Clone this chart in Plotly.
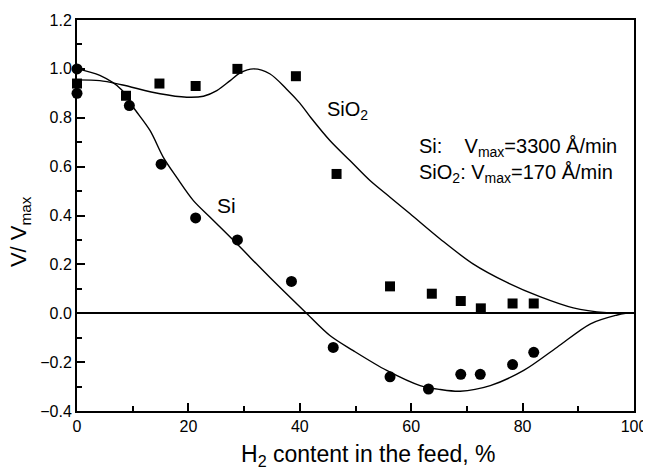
import plotly.graph_objects as go

# Measured data points
sio2_x = [0, 8.8, 14.8, 21.3, 28.8, 39.3, 46.6, 56.2, 63.7, 68.9, 72.5, 78.2, 82.0]
sio2_y = [0.94, 0.89, 0.94, 0.93, 1.0, 0.97, 0.57, 0.11, 0.08, 0.05, 0.02, 0.04, 0.04]

si_x = [0, 0, 9.4, 15.1, 21.3, 28.8, 38.5, 46.0, 56.2, 63.1, 68.9, 72.4, 78.2, 82.0]
si_y = [1.0, 0.90, 0.85, 0.61, 0.39, 0.30, 0.13, -0.14, -0.26, -0.31, -0.25, -0.25, -0.21, -0.16]

# Fitted curves
sio2_fit_x = [0, 4.1, 8.0, 14.9, 19.7, 22.7, 25.1, 27.5, 29.3, 31.7, 34.6, 37.6, 40.0, 42.0, 45.4, 49.0, 52.6, 56.2, 59.8, 65.2, 71.1, 77.1, 83.1, 89.1, 95.1, 97.8]
sio2_fit_y = [0.955, 0.952, 0.935, 0.898, 0.884, 0.888, 0.911, 0.952, 0.984, 1.0, 0.98, 0.918, 0.86, 0.80, 0.707, 0.625, 0.543, 0.475, 0.407, 0.304, 0.202, 0.127, 0.068, 0.022, 0.002, 0.0]

si_fit_x = [0, 4.1, 8.0, 10.1, 13.1, 15.5, 17.9, 20.9, 23.9, 28.7, 34.6, 41.2, 45.4, 49.6, 55.6, 61.6, 65.2, 68.8, 74.2, 80.2, 86.2, 92.2, 97.0, 98.5]
si_fit_y = [1.0, 0.973, 0.915, 0.843, 0.748, 0.638, 0.556, 0.461, 0.393, 0.284, 0.147, 0.0, -0.091, -0.153, -0.234, -0.296, -0.312, -0.319, -0.296, -0.234, -0.139, -0.043, -0.007, 0.0]

x_ticks = [0, 20, 40, 60, 80, 100]
y_ticks = [-0.4, -0.2, 0.0, 0.2, 0.4, 0.6, 0.8, 1.0, 1.2]

FONT = "Liberation Sans, Arial, sans-serif"

fig = go.Figure()
for fx, fy in ((sio2_fit_x, sio2_fit_y), (si_fit_x, si_fit_y)):
    fig.add_trace(go.Scatter(x=fx, y=fy, mode="lines",
                             line=dict(color="black", width=1.4, shape="spline", smoothing=0.9),
                             showlegend=False, hoverinfo="skip"))
fig.add_trace(go.Scatter(x=sio2_x, y=sio2_y, mode="markers",
                         marker=dict(symbol="square", size=10, color="black"),
                         showlegend=False, cliponaxis=False))
fig.add_trace(go.Scatter(x=si_x, y=si_y, mode="markers",
                         marker=dict(symbol="circle", size=11, color="black"),
                         showlegend=False, cliponaxis=False))

axis_common = dict(showline=True, linecolor="black", linewidth=2, mirror=True,
                   showgrid=False, ticks="inside", ticklen=8, tickwidth=2, tickcolor="black",
                   tickfont=dict(size=16), automargin=False)

# The page body has an 8px margin, so the figure is sized to fill the rest of the window.
fig.update_layout(
    width=643, height=460,
    margin=dict(l=69, r=17, t=12, b=57),
    paper_bgcolor="white", plot_bgcolor="white",
    font=dict(family=FONT, color="black", size=16),
    xaxis=dict(range=[0, 100], tickvals=x_ticks, zeroline=False,
               minor=dict(dtick=10, ticks="inside", ticklen=5, tickwidth=2, tickcolor="black"),
               **axis_common),
    yaxis=dict(range=[-0.4, 1.2], tickvals=y_ticks, tickformat=".1f",
               zeroline=True, zerolinecolor="black", zerolinewidth=2,
               minor=dict(dtick=0.1, ticks="inside", ticklen=5, tickwidth=2, tickcolor="black"),
               **axis_common),
    annotations=[
        dict(xref="paper", yref="paper", x=0.523, y=-0.113, text="H<sub>2</sub> content in the feed, %",
             showarrow=False, font=dict(size=23), xanchor="center", yanchor="middle"),
        dict(xref="paper", yref="paper", x=-0.102, y=0.458, text="V/ V<sub>max</sub>",
             showarrow=False, font=dict(size=22), textangle=-90, xanchor="center", yanchor="middle"),
        dict(x=26.9, y=0.44, text="Si", showarrow=False, font=dict(size=21)),
        dict(x=48.6, y=0.83, text="SiO<sub>2</sub>", showarrow=False, font=dict(size=20),
             xanchor="center", yanchor="middle"),
        dict(x=61.0, y=0.68, text="Si:    V<sub>max</sub>=3300 Å/min", showarrow=False,
             font=dict(size=20), xanchor="left", yanchor="middle"),
        dict(x=61.0, y=0.57, text="SiO<sub>2</sub>: V<sub>max</sub>=170 Å/min", showarrow=False,
             font=dict(size=20), xanchor="left", yanchor="middle"),
    ],
)

fig.write_html("out.html")
